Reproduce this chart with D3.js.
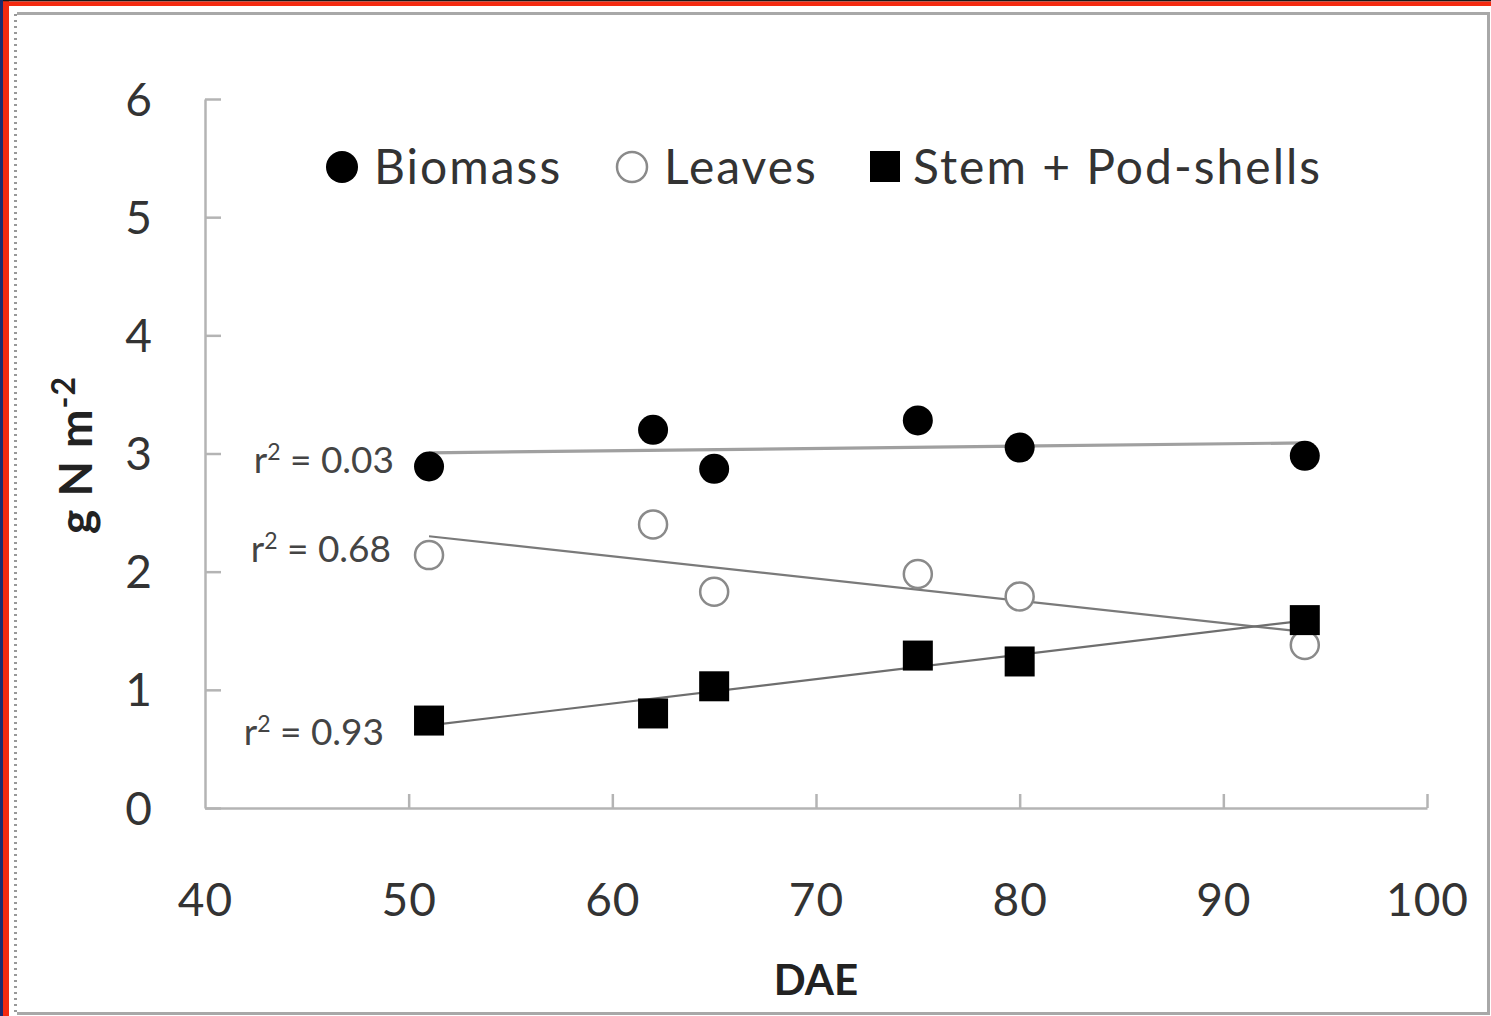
<!DOCTYPE html>
<html lang="en">
<head>
    <meta charset="UTF-8">
    <title>N content vs DAE</title>
    <script src="https://d3js.org/d3.v7.min.js"></script>
    <style>
        body { margin: 0; background: #fff; }
        text { font-family: Lato, "Open Sans", sans-serif; }
    </style>
</head>
<body>
<div id="chart"></div>

<script type=text/javascript>
    var width = 1491;
    var height = 1016;

    // data
    var dae = [51, 62, 65, 75, 80, 94];
    var biomass = [2.89, 3.20, 2.87, 3.28, 3.05, 2.98];
    var leaves = [2.14, 2.40, 1.83, 1.98, 1.79, 1.38];
    var stem = [0.74, 0.80, 1.03, 1.29, 1.24, 1.59];
    var seriesNames = ["Biomass", "Leaves", "Stem + Pod-shells"];
    var r2Labels = ["0.03", "0.68", "0.93"];
    var xTicks = [40, 50, 60, 70, 80, 90, 100];
    var yTicks = [0, 1, 2, 3, 4, 5, 6];

    var svg = d3.select("#chart")
        .append("svg")
        .attr("width", width)
        .attr("height", height);

    // frame of the screenshot
    svg.append("rect").attr("width", width).attr("height", height).attr("fill", "#fff");
    svg.append("rect").attr("x", 0).attr("y", 0).attr("width", 3).attr("height", height).attr("fill", "#1c2a6e");
    svg.append("rect").attr("x", 3).attr("y", 0).attr("width", 6).attr("height", height).attr("fill", "#f42a10");
    svg.append("rect").attr("x", 3).attr("y", 0).attr("width", width).attr("height", 1.5).attr("fill", "#1a1a1a");
    svg.append("rect").attr("x", 3).attr("y", 1.5).attr("width", width).attr("height", 4.5).attr("fill", "#f42a10");
    svg.append("path")
        .attr("d", "M17,13.5 H1488.5 V1013.5 H17")
        .attr("fill", "none").attr("stroke", "#a8a8a8").attr("stroke-width", 3);
    svg.append("line")
        .attr("x1", 15.5).attr("x2", 15.5).attr("y1", 14).attr("y2", 1014)
        .attr("stroke", "#999").attr("stroke-width", 3).attr("stroke-dasharray", "2,4");

    var x = d3.scaleLinear().domain([40, 100]).range([205, 1427]);
    var y = d3.scaleLinear().domain([0, 6]).range([808, 99]);

    var axisColor = "#b4b4b4";
    var textColor = "#333";

    var gx = svg.append("g")
        .attr("transform", "translate(0," + y(0) + ")")
        .call(d3.axisBottom(x).tickValues(xTicks).tickFormat(d3.format("d"))
            .tickSizeInner(-14).tickSizeOuter(0).tickPadding(75));
    var gy = svg.append("g")
        .attr("transform", "translate(" + x(40) + ",0)")
        .call(d3.axisLeft(y).tickValues(yTicks).tickFormat(d3.format("d"))
            .tickSizeInner(-16).tickSizeOuter(0).tickPadding(52));

    [gx, gy].forEach(function (g) {
        g.select(".domain").attr("stroke", axisColor).attr("stroke-width", 2.5);
        g.selectAll(".tick line").attr("stroke", axisColor).attr("stroke-width", 2.5);
        g.selectAll(".tick text").attr("fill", textColor).attr("font-size", "46px")
            .attr("letter-spacing", "1px")
            .style("font-family", "Lato, sans-serif");
    });
    gx.select(".tick line").remove();
    gy.selectAll(".tick text").attr("dy", "0.35em");

    // axis titles
    svg.append("text")
        .attr("x", x(70)).attr("y", 995)
        .attr("text-anchor", "middle")
        .attr("font-size", "42px").attr("font-weight", "bold").attr("fill", "#222")
        .text("DAE");

    var yt = svg.append("text")
        .attr("transform", "translate(92,455) rotate(-90)")
        .attr("text-anchor", "middle")
        .attr("font-size", "46px").attr("font-weight", "bold").attr("fill", "#222")
        .attr("letter-spacing", "1px");
    yt.append("tspan").text("g N m");
    yt.append("tspan").attr("dy", "-17").attr("font-size", "32px").text("-2");

    // trend lines (least squares fit on each series)
    function fit(xs, ys) {
        var mx = d3.mean(xs), my = d3.mean(ys);
        var sxy = d3.sum(xs, function (v, i) { return (v - mx) * (ys[i] - my); });
        var sxx = d3.sum(xs, function (v) { return (v - mx) * (v - mx); });
        var b = sxy / sxx;
        return function (v) { return my + b * (v - mx); };
    }

    var allSeries = [biomass, leaves, stem];
    var lineColors = ["#a0a0a0", "#7a7a7a", "#6e6e6e"];
    var lineWidths = [3.2, 2.2, 2.2];
    var xMin = d3.min(dae), xMax = d3.max(dae);

    allSeries.forEach(function (s, k) {
        var f = fit(dae, s);
        svg.append("path")
            .attr("d", d3.line()([[x(xMin), y(f(xMin))], [x(xMax), y(f(xMax))]]))
            .attr("fill", "none")
            .attr("stroke", lineColors[k])
            .attr("stroke-width", lineWidths[k]);

        svg.append("text")
            .attr("x", x(xMin) - [35, 38, 45][k])
            .attr("y", y(f(xMin)) + [20, 26, 20][k])
            .attr("text-anchor", "end")
            .attr("font-size", "37px")
            .attr("fill", "#444")
            .call(function (t) {
                t.append("tspan").text("r");
                t.append("tspan").attr("dy", "-13").attr("font-size", "23px").text("2");
                t.append("tspan").attr("dy", "13").text(" = " + r2Labels[k]);
            });
    });

    // markers
    var pts = function (s) { return dae.map(function (d, i) { return [d, s[i]]; }); };
    var rad = 15, half = 15;

    svg.selectAll(".bio").data(pts(biomass)).enter().append("circle")
        .attr("cx", function (d) { return x(d[0]); })
        .attr("cy", function (d) { return y(d[1]); })
        .attr("r", rad).attr("fill", "#000");

    svg.selectAll(".leaf").data(pts(leaves)).enter().append("circle")
        .attr("cx", function (d) { return x(d[0]); })
        .attr("cy", function (d) { return y(d[1]); })
        .attr("r", rad - 1).attr("fill", "#fff")
        .attr("stroke", "#8a8a8a").attr("stroke-width", 2.5);

    svg.selectAll(".stem").data(pts(stem)).enter().append("rect")
        .attr("x", function (d) { return x(d[0]) - half; })
        .attr("y", function (d) { return y(d[1]) - half; })
        .attr("width", half * 2).attr("height", half * 2).attr("fill", "#000");

    // legend
    var legX = [342, 632, 885];
    var legend = svg.append("g");
    legend.append("circle").attr("cx", legX[0]).attr("cy", 167).attr("r", 16).attr("fill", "#000");
    legend.append("circle").attr("cx", legX[1]).attr("cy", 167).attr("r", 15).attr("fill", "#fff")
        .attr("stroke", "#8a8a8a").attr("stroke-width", 2.5);
    legend.append("rect").attr("x", legX[2] - 15).attr("y", 151).attr("width", 30).attr("height", 31).attr("fill", "#000");
    legend.selectAll(".lt").data(seriesNames).enter().append("text")
        .attr("x", function (d, i) { return legX[i] + [32, 32, 28][i]; })
        .attr("y", 184)
        .attr("font-size", "48px")
        .attr("letter-spacing", "2px")
        .attr("fill", textColor)
        .text(function (d) { return d; });
</script>
</body>
</html>
